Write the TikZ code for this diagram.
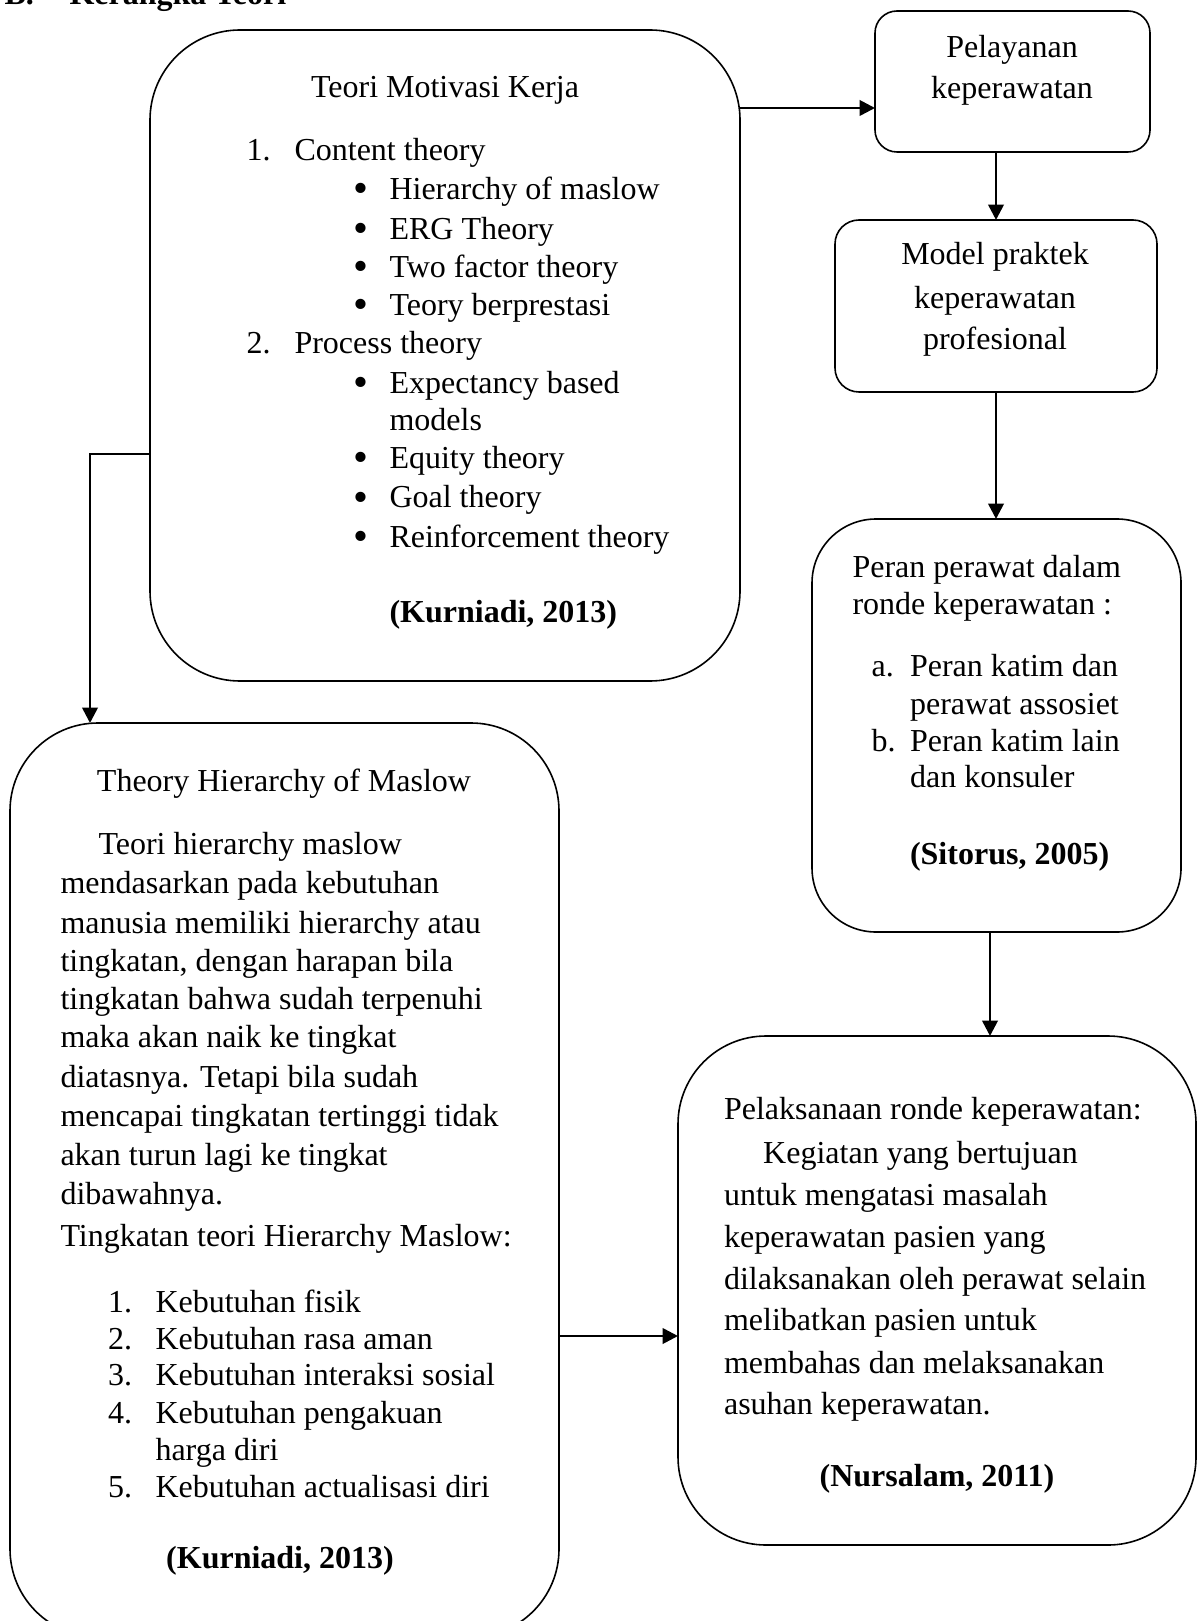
\documentclass[tikz,border=0pt]{standalone}
\usepackage{fontspec}
\setmainfont{Liberation Serif}
\usetikzlibrary{arrows.meta,fit}
\begin{document}
\begin{tikzpicture}[x=0.375pt,y=-0.375pt,
  box/.style={draw, line width=0.6pt, inner sep=0pt, outer sep=0pt},
  arr/.style={line width=1pt, -{Triangle[length=5.8pt,width=5.8pt]}},
  txt/.style={anchor=base west, inner sep=0pt, font=\fontsize{12pt}{14.5pt}\selectfont},
  ctxt/.style={anchor=base, inner sep=0pt, font=\fontsize{12pt}{14.5pt}\selectfont},
  bld/.style={font=\fontsize{12pt}{14.5pt}\selectfont\bfseries},
  dot/.style={anchor=base west, inner sep=0pt, text height=4pt, text depth=0pt, font=\fontsize{16pt}{16pt}\selectfont},
]
\useasboundingbox (0,0) rectangle (1202,1621);

% heading (cut off at top, as in the reference)
\node[txt,bld] (hdA) at (4,5) {B.};
\node[txt,bld] (hdB) at (69,5) {Kerangka Teori};

% boxes
\node[box, rounded corners=33.75pt, fit={(150,30) (740,681)}] (b1) {};
\node[box, rounded corners=8.25pt, fit={(875,11) (1150,152)}] (pel) {};
\node[box, rounded corners=9pt, fit={(835,220) (1157,392)}] (mod) {};
\node[box, rounded corners=24pt, fit={(812,519) (1181,932)}] (per) {};
\node[box, rounded corners=33pt, fit={(678,1036) (1196,1545)}] (pk) {};
\node[box, rounded corners=33pt, fit={(10,723) (559,1637)}] (th) {};

% box 1 text
\node[ctxt] (b1t) at (445,98) {Teori Motivasi Kerja};
\node[txt] (b1n1) at (246,161) {1.};
\node[txt] (b1l1) at (294,161) {Content theory};
\node[dot] (b1d1) at (353,203) {•};
\node[txt] (b1l2) at (389,200) {Hierarchy of maslow};
\node[dot] (b1d2) at (353,242.5) {•};
\node[txt] (b1l3) at (389,239.5) {ERG Theory};
\node[dot] (b1d3) at (353,281) {•};
\node[txt] (b1l4) at (389,278) {Two factor theory};
\node[dot] (b1d4) at (353,319) {•};
\node[txt] (b1l5) at (389,316) {Teory berprestasi};
\node[txt] (b1n2) at (246,354) {2.};
\node[txt] (b1l6) at (294,354) {Process theory};
\node[dot] (b1d5) at (353,396.5) {•};
\node[txt] (b1l7) at (389,393.5) {Expectancy based};
\node[txt] (b1l8) at (389,430.7) {models};
\node[dot] (b1d6) at (353,472) {•};
\node[txt] (b1l9) at (389,469) {Equity theory};
\node[dot] (b1d7) at (353,511) {•};
\node[txt] (b1l10) at (389,508) {Goal theory};
\node[dot] (b1d8) at (353,550.5) {•};
\node[txt] (b1l11) at (389,547.5) {Reinforcement theory};
\node[txt,bld] (b1c) at (389,622) {(Kurniadi, 2013)};

% pelayanan
\node[ctxt] (pelt1) at (1012,58) {Pelayanan};
\node[ctxt] (pelt2) at (1012,99) {keperawatan};

% model
\node[ctxt] (modt1) at (995,265) {Model praktek};
\node[ctxt] (modt2) at (995,309) {keperawatan};
\node[ctxt] (modt3) at (995,350) {profesional};

% peran
\node[txt] (pert1) at (852,577.4) {Peran perawat dalam};
\node[txt] (pert2) at (852,614.6) {ronde keperawatan :};
\node[txt] (pera) at (871,676.6) {a.};
\node[txt] (perl1) at (909.5,676.6) {Peran katim dan};
\node[txt] (perl2) at (909.5,714.9) {perawat assosiet};
\node[txt] (perb) at (871,751) {b.};
\node[txt] (perl3) at (909.5,751) {Peran katim lain};
\node[txt] (perl4) at (909.5,787) {dan konsuler};
\node[txt,bld] (perc) at (909.5,864.7) {(Sitorus, 2005)};

% pelaksanaan
\node[txt] (pkt) at (723.5,1119) {Pelaksanaan ronde keperawatan:};
\node[txt] (pkl1) at (762.7,1163) {Kegiatan yang bertujuan};
\node[txt] (pkl2) at (723.5,1205.5) {untuk mengatasi masalah};
\node[txt] (pkl3) at (723.5,1247.5) {keperawatan pasien yang};
\node[txt] (pkl4) at (723.5,1289) {dilaksanakan oleh perawat selain};
\node[txt] (pkl5) at (723.5,1330.5) {melibatkan pasien untuk};
\node[txt] (pkl6) at (723.5,1373) {membahas dan melaksanakan};
\node[txt] (pkl7) at (723.5,1414.6) {asuhan keperawatan.};
\node[ctxt,bld] (pkc) at (937,1486) {(Nursalam, 2011)};

% theory hierarchy
\node[ctxt] (tht) at (284,791) {Theory Hierarchy of Maslow};
\node[txt] (thp1) at (98,854) {Teori hierarchy maslow};
\node[txt] (thp2) at (60,893.6) {mendasarkan pada kebutuhan};
\node[txt] (thp3) at (60,933) {manusia memiliki hierarchy atau};
\node[txt] (thp4) at (60,971) {tingkatan, dengan harapan bila};
\node[txt] (thp5) at (60,1009.4) {tingkatan bahwa sudah terpenuhi};
\node[txt] (thp6) at (60,1047.6) {maka akan naik ke tingkat};
\node[txt] (thp7) at (60,1087) {diatasnya. Tetapi bila sudah};
\node[txt] (thp8) at (60,1126) {mencapai tingkatan tertinggi tidak};
\node[txt] (thp9) at (60,1165.5) {akan turun lagi ke tingkat};
\node[txt] (thp10) at (60,1204.5) {dibawahnya.};
\node[txt] (thq) at (60,1246) {Tingkatan teori Hierarchy Maslow:};
\node[txt] (thn1) at (107.5,1312) {1.};
\node[txt] (thl1) at (155,1312) {Kebutuhan fisik};
\node[txt] (thn2) at (107.5,1349.5) {2.};
\node[txt] (thl2) at (155,1349.5) {Kebutuhan rasa aman};
\node[txt] (thn3) at (107.5,1385.6) {3.};
\node[txt] (thl3) at (155,1385.6) {Kebutuhan interaksi sosial};
\node[txt] (thn4) at (107.5,1423) {4.};
\node[txt] (thl4) at (155,1423) {Kebutuhan pengakuan};
\node[txt] (thl5) at (155,1460) {harga diri};
\node[txt] (thn5) at (107.5,1497) {5.};
\node[txt] (thl6) at (155,1497) {Kebutuhan actualisasi diri};
\node[ctxt,bld] (thc) at (280,1568) {(Kurniadi, 2013)};

% connectors
\coordinate (j1) at (740,108);
\draw[arr] (b1.east |- j1) -- (pel.west |- j1);
\coordinate (j2) at (996,0);
\draw[arr] (pel.south -| j2) -- (mod.north -| j2);
\draw[arr] (mod.south -| j2) -- (per.north -| j2);
\coordinate (j3) at (990,0);
\draw[arr] (per.south -| j3) -- (pk.north -| j3);
\coordinate (j4) at (90,454);
\draw[arr] (b1.west |- j4) -- (j4) -- (th.north -| j4);
\coordinate (j5) at (0,1336);
\draw[arr] (th.east |- j5) -- (pk.west |- j5);
\end{tikzpicture}
\end{document}
